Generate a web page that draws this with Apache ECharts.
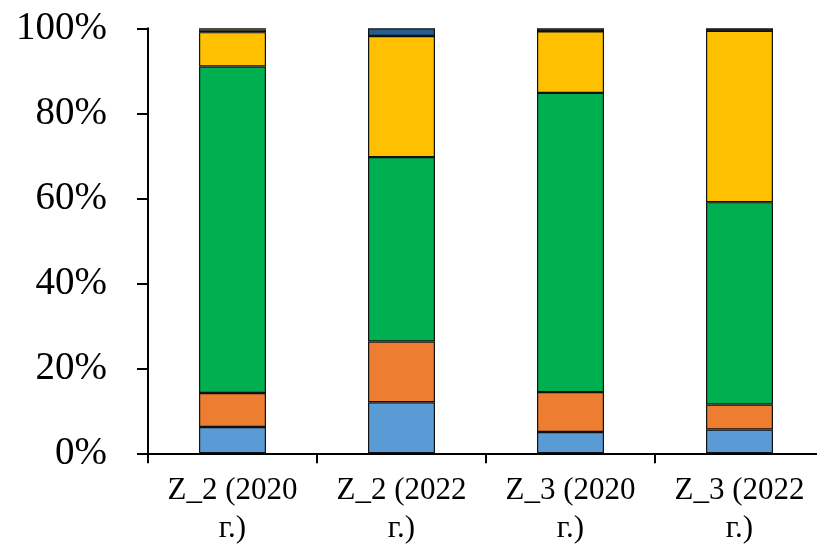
<!DOCTYPE html>
<html><head><meta charset="utf-8">
<script src="https://cdn.jsdelivr.net/npm/echarts@6/dist/echarts.min.js"></script>
<style>html,body{margin:0;padding:0;background:#fff}#c{width:817px;height:545px}</style>
</head><body><div id="c"></div>
<script>
const categories = ['Z_2 (2020 г.)', 'Z_2 (2022 г.)', 'Z_3 (2020 г.)', 'Z_3 (2022 г.)'];
const s1 = [6.2, 12.0, 5.0, 5.6];
const s2 = [8.0, 14.3, 9.4, 5.9];
const s3 = [76.8, 43.4, 70.4, 47.6];
const s4 = [8.1, 28.5, 14.5, 40.3];
const s5 = [0.6, 0, 0, 0];
const s6 = [0.3, 1.8, 0.7, 0.6];
const colors = ['#5B9BD5', '#ED7D31', '#00B050', '#FFC000', '#70AD47', '#255E91'];
const seriesData = [s1, s2, s3, s4, s5, s6];

const chart = echarts.init(document.getElementById('c'), null, {renderer: 'canvas'});
const font = 'Liberation Serif';
chart.setOption({
  animation: false,
  grid: {left: 148, right: -7, top: 28.3, bottom: 545 - 453.3, containLabel: false, outerBoundsMode: 'none'},
  xAxis: {
    type: 'category', data: categories,
    axisLine: {lineStyle: {color: '#000', width: 2}},
    axisTick: {show: true, interval: 0, length: 10, lineStyle: {color: '#000', width: 2}},
    axisLabel: {
      interval: 0, hideOverlap: false,
      color: '#000', fontFamily: font, fontSize: 31, lineHeight: 38, margin: 19,
      formatter: v => v.replace(' г.)', '\nг.)')
    }
  },
  yAxis: {
    type: 'value', min: 0, max: 100, interval: 20,
    splitLine: {show: false},
    axisLine: {show: true, lineStyle: {color: '#000', width: 2}},
    axisTick: {show: true, inside: false, length: 11, lineStyle: {color: '#000', width: 2}},
    axisLabel: {color: '#000', fontFamily: font, fontSize: 39, margin: 41, formatter: '{value}%'}
  },
  series: seriesData.map((d, i) => ({
    type: 'bar', stack: 'total', data: d, barWidth: 67,
    itemStyle: {color: colors[i], borderColor: '#111', borderWidth: 1.2}
  }))
});
</script></body></html>
